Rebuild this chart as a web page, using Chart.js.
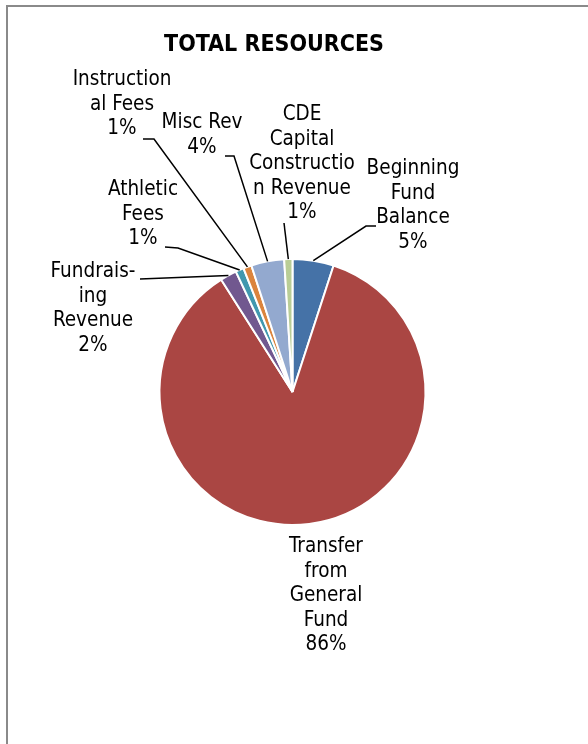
<!DOCTYPE html>
<html>
<head>
<meta charset="utf-8">
<script src="https://cdn.jsdelivr.net/npm/chart.js@4"></script>
<style>
  html, body { margin: 0; padding: 0; background: #fff; overflow: hidden; }
  #wrap { position: relative; width: 588px; height: 744px; }
  #frame { position: absolute; left: 6px; top: 5px; width: 620px; height: 800px;
           border-left: 2px solid #8a8a8a; border-top: 2px solid #8a8a8a; }
  canvas { position: absolute; left: 0; top: 0; }
</style>
</head>
<body>
<div id="wrap">
  <div id="frame"></div>
  <canvas id="chartResources" width="588" height="744"></canvas>
</div>
<script>
const title = "TOTAL RESOURCES";
const categories = [
  "Beginning Fund Balance",
  "Transfer from General Fund",
  "Fundraising Revenue",
  "Athletic Fees",
  "Instructional Fees",
  "Misc Rev",
  "CDE Capital Construction Revenue"
];
const percentages = [5, 86, 2, 1, 1, 4, 1];
// category text as it wraps in the data labels
const labelLines = [
  ["Beginning", "Fund", "Balance"],
  ["Transfer", "from", "General", "Fund"],
  ["Fundrais-", "ing", "Revenue"],
  ["Athletic", "Fees"],
  ["Instruction", "al Fees"],
  ["Misc Rev"],
  ["CDE", "Capital", "Constructio", "n Revenue"]
];
const colors = ["#4572A7", "#AA4643", "#71588F", "#4198AF", "#DB843D", "#93A9CF", "#B9CD96"];

// label placement relative to the pie centre: text centre x, first line y,
// leader start and elbow (null = no leader)
const labelLayout = [
  { dx: 120.5, dy: -223, lead: [83.5, -166], elbow: [73.5, -166] },
  { dx: 33.5,  dy: 155,  lead: null },
  { dx: -199.5, dy: -120, lead: [-152.5, -113], elbow: [-152.5, -113] },
  { dx: -149.5, dy: -202, lead: [-127.5, -145], elbow: [-114.5, -144] },
  { dx: -170.5, dy: -312, lead: [-149.5, -253], elbow: [-138.5, -253] },
  { dx: -90.5,  dy: -269, lead: [-67.5, -236],  elbow: [-58.5, -236] },
  { dx: 9.5,    dy: -277, lead: [-8.5, -169],   elbow: [-8.5, -169] }
];
const LABEL_FONT = '20.5px "DejaVu Sans Condensed", "DejaVu Sans", sans-serif';
const LINE_H = 24.5;

const pieLabels = {
  id: "pieLabels",
  afterDraw(chart) {
    const ctx = chart.ctx;
    const arcs = chart.getDatasetMeta(0).data;
    ctx.save();
    // title
    ctx.fillStyle = "#000";
    ctx.font = 'bold 23px "DejaVu Sans Condensed", "DejaVu Sans", sans-serif';
    ctx.textAlign = "center";
    ctx.textBaseline = "middle";
    ctx.fillText(title, 274, 45);

    ctx.font = LABEL_FONT;
    arcs.forEach((arc, i) => {
      const p = arc.getProps(["x", "y", "startAngle", "endAngle", "outerRadius"], true);
      const lay = labelLayout[i];
      const cx = p.x + lay.dx;
      const lines = labelLines[i].concat([percentages[i] + "%"]);
      lines.forEach((t, k) => ctx.fillText(t, cx, p.y + lay.dy + k * LINE_H));

      if (lay.lead) {
        const mid = (p.startAngle + p.endAngle) / 2;
        const ex = p.x + Math.cos(mid) * p.outerRadius;
        const ey = p.y + Math.sin(mid) * p.outerRadius;
        ctx.strokeStyle = "#000";
        ctx.lineWidth = 1.5;
        ctx.beginPath();
        ctx.moveTo(p.x + lay.lead[0], p.y + lay.lead[1]);
        ctx.lineTo(p.x + lay.elbow[0], p.y + lay.elbow[1]);
        ctx.lineTo(ex, ey);
        ctx.stroke();
      }
    });
    ctx.restore();
  }
};

new Chart(document.getElementById("chartResources"), {
  type: "pie",
  data: {
    labels: categories,
    datasets: [{
      data: percentages,
      backgroundColor: colors,
      borderColor: "#ffffff",
      borderWidth: 2
    }]
  },
  options: {
    responsive: false,
    animation: false,
    layout: { padding: { left: 158.5, right: 161.5, top: 258, bottom: 218 } },
    plugins: {
      legend: { display: false },
      tooltip: { enabled: false }
    }
  },
  plugins: [pieLabels]
});
</script>
</body>
</html>
